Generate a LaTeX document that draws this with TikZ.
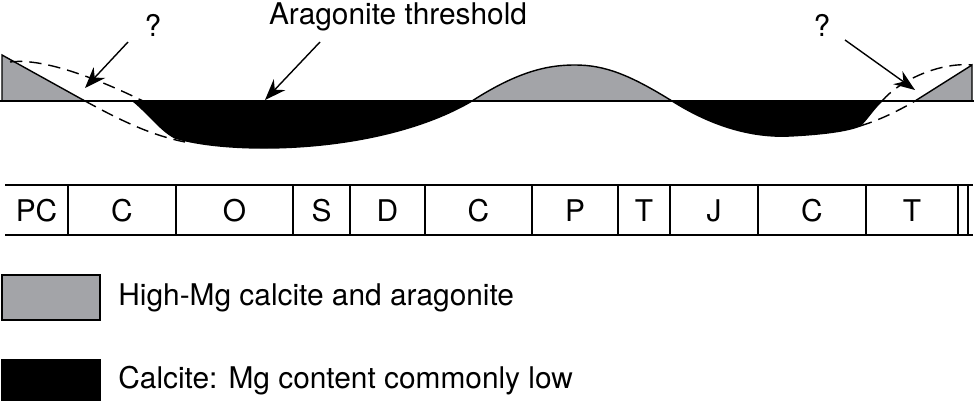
\documentclass[tikz,border=0pt]{standalone}
\usepackage{fontspec}
\setmainfont{TeX Gyre Heros}
\usetikzlibrary{arrows.meta}
\definecolor{mggray}{RGB}{163,164,168}
\tikzset{
  lbl/.style={font=\fontsize{17}{20}\selectfont, inner sep=0pt},
  ptr/.style={thick, -{Stealth[length=12pt, width=9pt]}},
  dsh/.style={thick, dashed, dash pattern=on 7pt off 4pt},
  era/.style={font=\fontsize{17}{20}\selectfont}
}
\begin{document}
\begin{tikzpicture}[x=0.02cm, y=-0.02cm]
    \useasboundingbox (0,0) rectangle (974,401);
    % gray fields
    \filldraw[fill=mggray, thick] (2,101) -- (2,55) -- (85,101) -- cycle;
    \filldraw[fill=mggray, thick] (472,101) .. controls (520,70) and (550,65) .. (575,65)
        .. controls (605,65) and (630,75) .. (672,101) -- cycle;
    \filldraw[fill=mggray, thick] (915,101) -- (972,65) -- (972,101) -- cycle;
    % black fields
    \filldraw[thick] (133,101) .. controls (150,115) and (160,130) .. (175,138)
        .. controls (230,155) and (380,155) .. (472,101) -- cycle;
    \filldraw[thick] (672,101) .. controls (710,125) and (750,138) .. (790,136)
        .. controls (830,134) and (850,130) .. (860,126)
        .. controls (868,118) and (874,108) .. (882,101) -- cycle;
    % threshold
    \draw[thick] (0,101) -- (974,101);
    % uncertain parts
    \draw[dsh] (10,62) .. controls (40,58) and (90,75) .. (143,101);
    \draw[dsh] (85,101) .. controls (120,120) and (150,135) .. (185,142);
    \draw[dsh] (860,126) .. controls (880,120) and (900,110) .. (915,101);
    \draw[dsh] (882,101) .. controls (900,80) and (940,62) .. (972,65);
    % labels and pointers
    \node[lbl] (q1) at (153,25) {?};
    \node[lbl] (thr) at (398,17) {Aragonite threshold};
    \node[lbl] (q2) at (822,25) {?};
    \coordinate (p1) at (85,88);
    \coordinate (p2) at (265,100);
    \coordinate (p3) at (915,90);
    \draw[ptr] (128,42) -- (p1);
    \draw[ptr] (320,42) -- (p2);
    \draw[ptr] (845,40) -- (p3);
    % time scale
    \draw[very thick] (5,185) -- (973,185);
    \draw[very thick] (5,235) -- (973,235);
    \foreach \xa/\xb/\per in {5/68/PC, 68/176/C, 176/293/O, 293/350/S, 350/425/D,
        425/532/C, 532/618/P, 618/670/T, 670/758/J, 758/866/C, 866/958/T} {
        \node[era] (e\xa) at ({(\xa+\xb)/2},211) {\per};
    }
    \foreach \xs in {68,176,293,350,425,532,618,670,758,866,958,968} {
        \draw[thick] (\xs,185) -- (\xs,235);
    }
    % legend
    \filldraw[fill=mggray, thick] (2,275) rectangle (100,320);
    \node[lbl, anchor=west] (lg1) at (118,298) {High-Mg calcite and aragonite};
    \filldraw[thick] (2,360) rectangle (100,401);
    \node[lbl, anchor=west] (lg2) at (118,381) {Calcite: Mg content commonly low};
\end{tikzpicture}
\end{document}
